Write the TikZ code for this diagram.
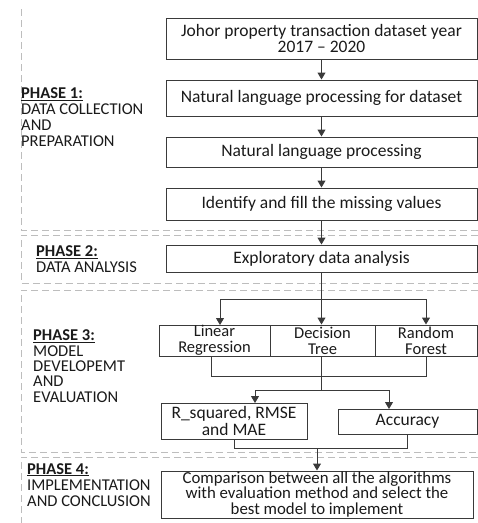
\documentclass[tikz,border=0pt]{standalone}
\usepackage{fontspec}
\setmainfont{Carlito}
\usetikzlibrary{arrows.meta}
\definecolor{txt}{HTML}{1A1A1A}
\definecolor{edgec}{HTML}{3A3A3A}
\definecolor{dashc}{HTML}{BDBDBD}
\tikzset{
 box/.style={draw=edgec, line width=1pt, inner sep=0pt, align=center, text=txt, font=\fontsize{17.5}{16.5}\selectfont},
 twoline/.style={font=\fontsize{16.5}{15.8}\selectfont},
 conn/.style={draw=edgec, line width=1pt},
 arr/.style={conn, -{Triangle[length=7pt,width=8pt]}},
 phaseline/.style={draw=dashc, line width=1pt, dash pattern=on 7pt off 4pt},
 lbl/.style={anchor=base west, align=left, inner sep=0pt, text=txt},
}
\begin{document}
\begin{tikzpicture}[x=1pt,y=-1pt]
\useasboundingbox (0,0) rectangle (478,523);
% phase frames
\draw[phaseline] (21,9) -- (21,230) -- (478,230);
\draw[phaseline] (478,235) -- (21,235) -- (21,283) -- (478,283);
\draw[phaseline] (478,290) -- (21,290) -- (21,452) -- (478,452);
\draw[phaseline] (478,457) -- (21,457) -- (21,523);
% phase labels (anchored at the baseline of their last line)
\node[lbl, font=\fontsize{16.5}{15.8}\selectfont] (p1) at (21,146) {\textbf{\underline{PHASE 1:}}\\DATA COLLECTION\\AND\\PREPARATION};
\node[lbl, font=\fontsize{16.5}{15.5}\selectfont] (p2) at (36,272) {\textbf{\underline{PHASE 2:}}\\DATA ANALYSIS};
\node[lbl, font=\fontsize{16.5}{15.3}\selectfont] (p3) at (33,402) {\textbf{\underline{PHASE 3:}}\\MODEL\\DEVELOPEMT\\AND\\EVALUATION};
\node[lbl, font=\fontsize{16.5}{16}\selectfont] (p4) at (27,506) {\textbf{\underline{PHASE 4:}}\\IMPLEMENTATION\\AND CONCLUSION};
% boxes
\node[box, minimum width=311pt, minimum height=41pt] (b1) at (321.5,38.5) {Johor property transaction dataset year\\2017 -- 2020};
\node[box, minimum width=311pt, minimum height=36pt] (b2) at (321.5,98) {Natural language processing for dataset};
\node[box, minimum width=311pt, minimum height=30pt] (b3) at (321.5,152) {Natural language processing};
\node[box, minimum width=311pt, minimum height=32pt] (b4) at (321.5,204) {Identify and fill the missing values};
\node[box, minimum width=311pt, minimum height=27pt] (b5) at (321.5,258.5) {Exploratory data analysis};
\node[box, twoline, minimum width=111pt, minimum height=31pt] (lr) at (214.5,340.5) {Linear\\Regression};
\node[box, twoline, minimum width=105pt, minimum height=31pt] (dt) at (322.5,340.5) {Decision\\Tree};
\node[box, twoline, minimum width=102pt, minimum height=31pt] (rf) at (426,340.5) {Random\\Forest};
\node[box, minimum width=146pt, minimum height=36pt] (rs) at (234,421) {R\_squared, RMSE\\and MAE};
\node[box, minimum width=139pt, minimum height=25pt] (acc) at (407.5,421.5) {Accuracy};
\node[box, minimum width=312pt, minimum height=47pt, font=\fontsize{16.8}{15.6}\selectfont] (cmp) at (317,494.5) {Comparison between all the algorithms\\with evaluation method and select the\\best model to implement};
% connectors
\draw[arr] (b1) -- (b2);
\draw[arr] (b2) -- (b3);
\draw[arr] (b3) -- (b4);
\draw[arr] (b4) -- (b5);
\draw[arr] (b5.south) -- (b5.south |- dt.north);
\coordinate (row1) at (0,299);
\coordinate (lrin) at (220,325);
\draw[arr] (b5.south |- row1) -| (lrin);
\draw[arr] (b5.south |- row1) -| (rf.north);
\coordinate (lrout) at (211,356);
\coordinate (row2) at (0,376);
\draw[conn] (lrout) -- (lrout |- row2) -- (rf.south |- row2) -- (rf.south);
\coordinate (dtout) at (321,356);
\coordinate (row3) at (0,390);
\coordinate (rsin) at (255,403);
\coordinate (accin) at (389,409);
\draw[conn] (dtout) -- (dtout |- row3);
\draw[arr] (dtout |- row3) -| (rsin);
\draw[arr] (dtout |- row3) -| (accin);
\coordinate (row4) at (0,448);
\draw[conn] (rs.south) -- (rs.south |- row4) -- (acc.south |- row4) -- (acc.south);
\draw[arr] (cmp.north |- row4) -- (cmp.north);
\end{tikzpicture}
\end{document}
